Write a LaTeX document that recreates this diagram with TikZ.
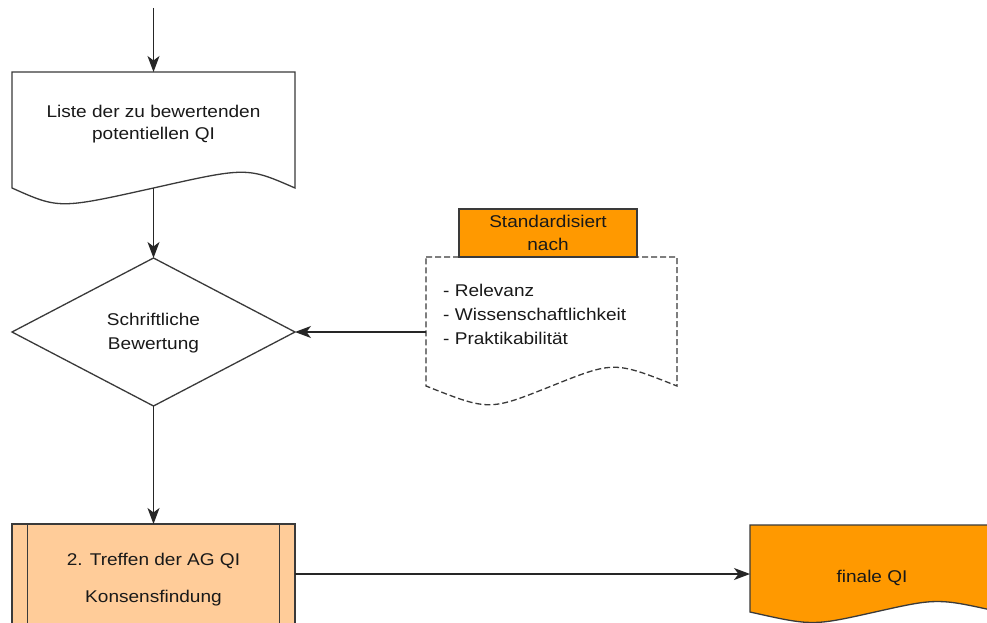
\documentclass[tikz,border=0pt]{standalone}
\usepackage{fontspec}
\setmainfont{Liberation Sans}[FakeStretch=1.12]
\usetikzlibrary{arrows.meta}
\definecolor{lineclr}{HTML}{3A3A3A}
\definecolor{orangefill}{HTML}{FF9900}
\definecolor{peachfill}{HTML}{FFCC99}
\begin{document}
\begin{tikzpicture}[x=1pt,y=-1pt,
  shapeline/.style={draw=lineclr,line width=1.3pt,line join=miter},
  arr/.style={draw=black!85,line width=1.2pt,-{Stealth[length=16pt,width=12pt,inset=4.5pt]}},
  txt/.style={font=\fontsize{17}{22}\selectfont,align=center,inner sep=0pt,text=black!90},
  bullets/.style={font=\fontsize{17}{24}\selectfont,align=left,inner sep=0pt,text=black!90}]
\clip (0,0) rectangle (987,623);
\fill[white] (0,0) rectangle (987,623);

% document shape: list of indicators
\draw[shapeline,fill=white] (12,72) -- (295,72) -- (295,188)
  .. controls (247,167) .. (153.5,188)
  .. controls (59,209) .. (12,188) -- cycle;
\coordinate (listeTop) at (153.5,72);
\coordinate (listeBot) at (153.5,188);
\node[txt] (liste) at (153.5,124) {Liste der zu bewertenden\\potentiellen QI};

% decision diamond
\draw[shapeline,fill=white] (153.5,258) -- (295,332) -- (153.5,406) -- (12,332) -- cycle;
\coordinate (diaTop) at (153.5,258);
\coordinate (diaBot) at (153.5,406);
\coordinate (diaRight) at (295,332);
\node[font=\fontsize{17}{24}\selectfont,align=center,inner sep=0pt,text=black!90] (bewertung) at (153.5,333) {Schriftliche\\Bewertung};

% criteria: dashed document with orange header
\draw[shapeline,dashed,dash pattern=on 6pt off 3pt,fill=white] (426,257) -- (677,257) -- (677,386)
  .. controls (614,361) .. (551.5,386)
  .. controls (489,411) .. (426,386) -- cycle;
\coordinate (critLeft) at (426,332);
\draw[shapeline,fill=orangefill] (459,209) rectangle (637,257);
\node[font=\fontsize{17}{23}\selectfont,align=center,inner sep=0pt,text=black!90] (standard) at (548,233) {Standardisiert\\nach};
\node[bullets,anchor=north west] (kriterien) at (443,284) {- Relevanz\\- Wissenschaftlichkeit\\- Praktikabilität};

% predefined process: second meeting
\draw[shapeline,fill=peachfill] (12,524) rectangle (295,660);
\draw[shapeline] (27.5,524) -- (27.5,660);
\draw[shapeline] (279.5,524) -- (279.5,660);
\coordinate (boxTop) at (153.5,524);
\coordinate (boxRight) at (295,574);
\node[txt,anchor=base] (treffen) at (153.5,565) {2. Treffen der AG QI};
\node[txt,anchor=base] (konsens) at (153.5,602) {Konsensfindung};

% final document
\draw[shapeline,fill=orangefill] (750,525) -- (1000,525) -- (1000,612)
  .. controls (937.5,598) .. (875,612)
  .. controls (812.5,626) .. (750,612) -- cycle;
\coordinate (finLeft) at (750,574);
\node[txt,anchor=base] (finale) at (872,582) {finale QI};

% connectors
\coordinate (entry) at (153.5,8);
\draw[arr] (entry) -- (listeTop);
\draw[arr] (listeBot) -- (diaTop);
\draw[arr] (critLeft) -- (diaRight);
\draw[arr] (diaBot) -- (boxTop);
\draw[arr] (boxRight) -- (finLeft);
\end{tikzpicture}
\end{document}
